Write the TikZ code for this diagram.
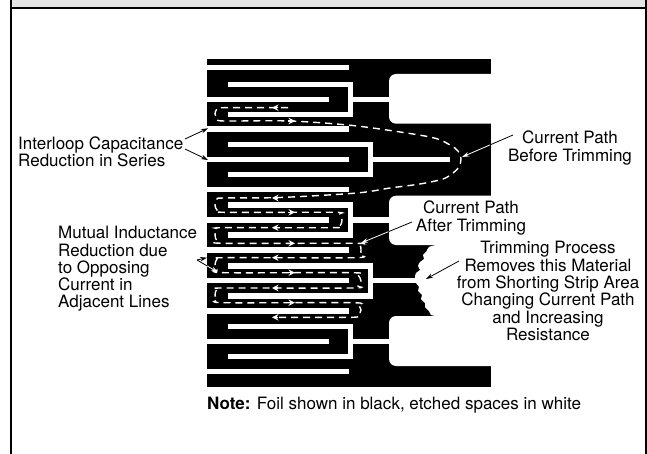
\documentclass[tikz,border=0pt]{standalone}
\usepackage{fontspec}
\setmainfont{TeX Gyre Heros}
\usetikzlibrary{arrows.meta,calc}
\definecolor{bandgray}{HTML}{E4E4E4}
\tikzset{
  etched/.style={fill=white},
  label/.style={inner sep=0pt, font=\fontsize{17}{17.3}\selectfont},
  leader/.style={draw=black, line width=0.8pt, -{Stealth[length=7pt,width=4.5pt]}},
  leaderstem/.style={draw=black, line width=0.8pt},
  leaderwhite/.style={draw=white, line width=0.8pt, -{Stealth[length=7pt,width=4.5pt]}},
  current/.style={draw=white, line width=1.4pt, dash pattern=on 7pt off 5pt},
  currenttip/.style={draw=white, line width=1.4pt, -{Stealth[length=6.5pt,width=6.5pt]}}
}
\begin{document}
\begin{tikzpicture}[x=1pt,y=-1pt]
  \useasboundingbox (0,0) rectangle (647,454);
  % Header band and frame
  \fill[bandgray] (11,0) rectangle (646,7.5);
  \draw[line width=2pt] (11,0) -- (11,454);
  \draw[line width=2pt] (646,0) -- (646,454);
  \draw[line width=2pt] (10,8) -- (647,8);
  % Foil
  \fill[black] (207,59) rectangle (491,387);
  % Straight etched lines
  \foreach \y in {65,126.3,187,247.3,308,368.7}
    \fill[etched] (207,\y) rectangle (349,\y+5.5);
  % Short loops
  \foreach \y in {81.7,202.5,323.5} {
    \fill[etched] (227.7,\y) rectangle (353.3,\y+5.6);
    \fill[etched] (227.7,\y+30) rectangle (353.3,\y+35.6);
    \fill[etched] (347.7,\y) rectangle (353.3,\y+35.6);
    \fill[etched] (207,\y+15) rectangle (328.7,\y+20.3);
    \fill[etched] (353,\y+15) rectangle (392,\y+20.3);
  }
  % Long loops
  \foreach \y/\e in {141.7/450,263/417} {
    \fill[etched] (227.7,\y) rectangle (373.3,\y+5.6);
    \fill[etched] (227.7,\y+30) rectangle (373.3,\y+35.6);
    \fill[etched] (367.7,\y) rectangle (373.3,\y+35.6);
    \fill[etched] (207,\y+15) rectangle (349,\y+20.3);
    \fill[etched] (373,\y+15) rectangle (\e,\y+20.3);
  }
  % Pockets
  \foreach \a/\b in {74/123.7,195.7/245,316/366}
    \fill[etched, rounded corners=7pt] (505,\a) -- (389,\a) -- (389,\b) -- (505,\b) -- cycle;
  % Trimmed edge
  \fill[etched] plot[smooth, tension=0.5] coordinates {(436,245) (429,247) (426,252) (423,255) (424,259) (420,262) (418,266) (420,270) (416,273) (415,278) (416,283) (419,287) (418,291) (422,295) (421,299) (425,303) (425,307) (429,311) (431,315) (436,316)} -- (505,316) -- (505,245) -- cycle;
  % Current path
  \draw[current] plot[smooth, tension=0.5] coordinates {(288,107.7) (224,107.7) (217,109) (215,114) (218,119) (224,121) (290,121) (357,126) (430,137) (450,145) (458,151) (461,159) (459,167) (453,173) (443,179) (420,184) (390,188) (357,193) (280,197.5) (224,198) (217,199) (215,205) (217,210) (224,212.3) (333,212.3) (340,214) (342,220) (340,226) (333,227.7) (224,227.7) (217,229) (215,235) (217,241) (224,243.3) (355,243.3) (360,245) (361,250) (360,255) (355,257.7) (224,257.7) (217,259) (215,265) (217,270) (224,272.7) (352,272.7) (358,275) (361,281) (358,286) (352,288) (224,288) (217,289) (215,295) (217,300) (224,302.7) (352,302.7) (358,305) (361,310) (358,315) (352,317.3) (278,317.3)};
  % Direction tips
  \foreach \y in {107.7,198,227.7,257.7,288,317.3}
    \draw[currenttip] (278,\y) -- (272,\y);
  \foreach \y in {121,212.3,243.3,272.7,302.7}
    \draw[currenttip] (288,\y) -- (295,\y);
  % Labels
  \node[label, anchor=west, align=left] (interloop) at (18,152) {Interloop Capacitance\\Reduction in Series};
  \node[label, anchor=west, align=left] (mutual) at (58,269) {Mutual Inductance\\Reduction due\\to Opposing\\Current in\\Adjacent Lines};
  \node[label, align=center] (before) at (570,148) {Current Path\\Before Trimming};
  \node[label, align=center] (after) at (471,218) {Current Path\\After Trimming};
  \node[label, align=center] (trimming) at (548,291) {Trimming Process\\Removes this Material\\from Shorting Strip Area\\Changing Current Path\\and Increasing\\Resistance};
  \node[label, anchor=west] (note) at (207,405) {\textbf{Note:} Foil shown in black, etched spaces in white};
  % Leaders
  \coordinate (interloopfrom) at (185,139);
  \coordinate (interloopa) at (208,128.3);
  \coordinate (interloopgo) at (185,149);
  \coordinate (interloopb) at (208,160);
  \coordinate (mutualfrom) at (197,260);
  \coordinate (mutuala) at (207,257.7);
  \coordinate (mutualb) at (218,272.3);
  \coordinate (beforefrom) at (513,135);
  \coordinate (beforeend) at (462,157);
  \coordinate (afterfrom) at (412,222);
  \coordinate (afterend) at (361,243);
  \coordinate (trimfrom) at (459,261);
  \coordinate (trimend) at (426,279);
  \draw[leader] (interloopfrom) -- (interloopa);
  \draw[leader] (interloopgo) -- (interloopb);
  \draw[leader] (mutualfrom) -- (mutuala);
  \draw[leaderstem] (mutualfrom) -- ($(mutualfrom)!0.48!(mutualb)$);
  \draw[leaderwhite] ($(mutualfrom)!0.48!(mutualb)$) -- (mutualb);
  \draw[leaderstem] (beforefrom) -- ($(beforefrom)!0.45!(beforeend)$);
  \draw[leaderwhite] ($(beforefrom)!0.45!(beforeend)$) -- (beforeend);
  \draw[leaderstem] (afterfrom) -- ($(afterfrom)!0.46!(afterend)$);
  \draw[leaderwhite] ($(afterfrom)!0.46!(afterend)$) -- (afterend);
  \draw[leader] (trimfrom) -- (trimend);
\end{tikzpicture}
\end{document}
